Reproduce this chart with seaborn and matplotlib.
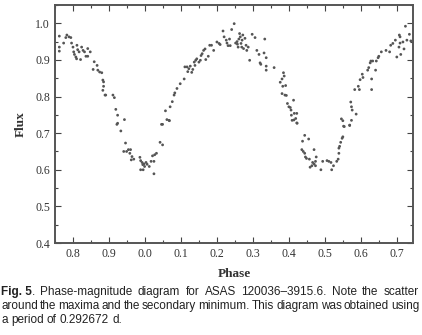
import matplotlib
matplotlib.use("Agg")
import matplotlib.pyplot as plt
from matplotlib.ticker import MultipleLocator
import seaborn as sns
import pandas as pd

# Phase (wrapped: values < 0 correspond to phases 0.75-1.0)
phase = [
    -0.238, -0.238, -0.238, -0.226, -0.220, -0.217, -0.211, -0.206, -0.204, -0.200,
    -0.198, -0.196, -0.192, -0.190, -0.189, -0.187, -0.183, -0.179, -0.176, -0.172,
    -0.168, -0.164, -0.159, -0.159, -0.152, -0.144, -0.141, -0.133, -0.131, -0.126,
    -0.120, -0.117, -0.115, -0.115, -0.117, -0.111, -0.109, -0.089, -0.085, -0.081,
    -0.076, -0.078, -0.057,
    -0.076, -0.067, -0.054, -0.059, -0.051, -0.046, -0.040, -0.042, -0.036, -0.038,
    -0.031, -0.014, -0.012, -0.008, -0.012, -0.005, -0.006, -0.003, -0.001, 0.003,
    0.006, 0.012, 0.017, 0.021, 0.025, 0.027, 0.025, 0.032, 0.042, 0.049, 0.049, 0.067,
    0.046, 0.057, 0.061, 0.068, 0.070, 0.076, 0.081, 0.083, 0.089, 0.098,
    0.109, 0.111, 0.117, 0.119, 0.122, 0.126, 0.130, 0.133, 0.139, 0.137,
    0.141, 0.144, 0.150, 0.154, 0.156, 0.159, 0.163, 0.167, 0.169, 0.176,
    0.180, 0.185, 0.191, 0.200, 0.206, 0.209, 0.217, 0.220, 0.226, 0.228,
    0.231, 0.235, 0.237, 0.241, 0.248, 0.252, 0.256, 0.257, 0.259, 0.261,
    0.263, 0.265, 0.267, 0.269, 0.270, 0.272, 0.274, 0.278, 0.281, 0.283,
    0.287, 0.291, 0.298, 0.306, 0.311, 0.317, 0.320, 0.322, 0.331, 0.333,
    0.337, 0.337, 0.337, 0.359, 0.376, 0.381, 0.385, 0.387, 0.383, 0.391,
    0.381, 0.389, 0.393, 0.396, 0.400, 0.404, 0.406, 0.407, 0.413, 0.415,
    0.419, 0.422, 0.409, 0.422,
    0.414, 0.423, 0.438, 0.444, 0.436, 0.440, 0.444, 0.446, 0.449, 0.455,
    0.457, 0.459, 0.464, 0.466, 0.470, 0.470, 0.474, 0.476, 0.474, 0.489,
    0.494, 0.506, 0.511, 0.517, 0.519, 0.524, 0.533, 0.537, 0.539, 0.539,
    0.541, 0.544, 0.548, 0.550, 0.554, 0.569, 0.550,
    0.546, 0.552, 0.569, 0.574, 0.572, 0.574, 0.576, 0.587, 0.583, 0.593,
    0.596, 0.598, 0.604, 0.606, 0.619, 0.622, 0.626, 0.628, 0.630, 0.630,
    0.633, 0.641, 0.643, 0.648, 0.650, 0.657, 0.670, 0.680, 0.683, 0.689,
    0.696, 0.700, 0.706, 0.709, 0.709, 0.707, 0.711, 0.717, 0.720, 0.724,
    0.728, 0.735, 0.739,
]
flux = [
    0.965, 0.935, 0.924, 0.946, 0.961, 0.968, 0.963, 0.961, 0.946, 0.935,
    0.922, 0.915, 0.908, 0.903, 0.940, 0.928, 0.922, 0.901, 0.935, 0.926,
    0.922, 0.910, 0.910, 0.931, 0.922, 0.874, 0.895, 0.885, 0.872, 0.867,
    0.865, 0.845, 0.840, 0.828, 0.817, 0.804, 0.804, 0.804, 0.797, 0.765,
    0.749, 0.724, 0.737,
    0.727, 0.706, 0.673, 0.650, 0.650, 0.655, 0.655, 0.645, 0.636, 0.627,
    0.629, 0.634, 0.625, 0.620, 0.600, 0.600, 0.614, 0.616, 0.609, 0.620,
    0.615, 0.609, 0.623, 0.638, 0.623, 0.641, 0.589, 0.645, 0.675, 0.668, 0.724, 0.735,
    0.724, 0.761, 0.737, 0.734, 0.772, 0.786, 0.804, 0.810, 0.822, 0.835,
    0.848, 0.881, 0.881, 0.868, 0.876, 0.883, 0.866, 0.874, 0.885, 0.894,
    0.899, 0.903, 0.894, 0.899, 0.912, 0.917, 0.926, 0.930, 0.901, 0.910,
    0.940, 0.940, 0.926, 0.949, 0.945, 0.942, 0.979, 0.963, 0.954, 0.946,
    0.939, 0.957, 0.939, 0.983, 0.999, 0.946, 0.950, 0.943, 0.935, 0.957,
    0.972, 0.963, 0.945, 0.935, 0.954, 0.968, 0.931, 0.959, 0.940, 0.926,
    0.935, 0.899, 0.970, 0.961, 0.926, 0.915, 0.892, 0.888, 0.919, 0.957,
    0.906, 0.883, 0.872, 0.879, 0.839, 0.848, 0.865, 0.856, 0.828, 0.830,
    0.808, 0.804, 0.803, 0.781, 0.772, 0.770, 0.763, 0.749, 0.790, 0.754,
    0.740, 0.754, 0.735, 0.728,
    0.736, 0.727, 0.678, 0.694, 0.655, 0.650, 0.645, 0.635, 0.631, 0.684,
    0.629, 0.607, 0.611, 0.620, 0.655, 0.616, 0.623, 0.635, 0.611, 0.600,
    0.623, 0.625, 0.623, 0.620, 0.600, 0.611, 0.623, 0.629, 0.645, 0.659,
    0.664, 0.675, 0.686, 0.690, 0.718, 0.721, 0.734,
    0.739, 0.719, 0.722, 0.735, 0.785, 0.772, 0.763, 0.752, 0.819, 0.828,
    0.819, 0.846, 0.861, 0.852, 0.872, 0.879, 0.892, 0.897, 0.848, 0.819,
    0.897, 0.872, 0.897, 0.906, 0.910, 0.922, 0.926, 0.922, 0.940, 0.945,
    0.954, 0.908, 0.935, 0.946, 0.963, 0.968, 0.915, 0.949, 0.930, 0.992,
    0.954, 0.970, 0.952,
]

xtick_pos = [-0.2, -0.1, 0.0, 0.1, 0.2, 0.3, 0.4, 0.5, 0.6, 0.7]
xtick_labels = ["0.8", "0.9", "0.0", "0.1", "0.2", "0.3", "0.4", "0.5", "0.6", "0.7"]
ytick_pos = [0.4, 0.5, 0.6, 0.7, 0.8, 0.9, 1.0]

caption_bold = "Fig. 5"
caption_lines = [
    ". Phase-magnitude diagram for ASAS 120036\u20133915.6. Note the scatter",
    "around the maxima and the secondary minimum. This diagram was obtained using",
    "a period of 0.292672 d.",
]

df = pd.DataFrame({"Phase": phase, "Flux": flux})

sns.set_style("ticks")
plt.rcParams["font.family"] = ["Liberation Serif", "DejaVu Serif"]

fig = plt.figure(figsize=(4.22, 3.35), dpi=100)
ax = fig.add_axes([55 / 422, 1 - 243 / 335, (413 - 55) / 422, (243 - 5) / 335])

sns.scatterplot(data=df, x="Phase", y="Flux", ax=ax, s=4, color="#555555",
                edgecolor="none", marker="o", legend=False)

ax.set_xlim(-0.25, 0.745)
ax.set_ylim(0.4, 1.05)
ax.set_xticks(xtick_pos)
ax.set_xticklabels(xtick_labels)
ax.set_yticks(ytick_pos)
ax.set_yticklabels([f"{v:.1f}" for v in ytick_pos])
ax.xaxis.set_minor_locator(MultipleLocator(0.05))
ax.yaxis.set_minor_locator(MultipleLocator(0.05))
ax.tick_params(which="both", direction="in", top=True, right=True,
               color="#444444", labelsize=8.5, labelcolor="#333333", width=0.8)
ax.tick_params(which="major", length=4)
ax.tick_params(which="minor", length=2)
for sp in ax.spines.values():
    sp.set_color("#555555")
    sp.set_linewidth(1.4)

ax.set_xlabel("Phase", fontsize=9.5, fontweight="bold", color="#333333", labelpad=6)
ax.set_ylabel("Flux", fontsize=9.5, fontweight="bold", color="#333333", labelpad=6)

sans = ["Liberation Sans", "DejaVu Sans"]
ys = [292, 306, 320]
fs = 8.5
fig.canvas.draw()
renderer = fig.canvas.get_renderer()

for i, (line, yp) in enumerate(zip(caption_lines, ys)):
    words = line.split(" ")
    parts = []
    if i == 0:
        parts.append((caption_bold, "bold"))
        first_punct = words[0]
        words = words[1:]
    parts += [(w, "normal") for w in words]
    items = [fig.text(0, 1 - yp / 335, txt, family=sans, fontsize=fs,
                      fontweight=wt, va="center", ha="left", color="#222222")
             for txt, wt in parts]
    widths = [t.get_window_extent(renderer).width for t in items]
    if i == 0:
        p = fig.text(0, 1 - yp / 335, first_punct, family=sans, fontsize=fs,
                     va="center", ha="left", color="#222222")
        bw = widths[0]
        widths[0] = bw + p.get_window_extent(renderer).width
    total = sum(widths)
    if i < len(caption_lines) - 1:
        gap = (419.0 - 1.0 - total) / (len(items) - 1)
    else:
        gap = fs * 0.28 * 100 / 72
    x = 1.0
    for j, (t, w) in enumerate(zip(items, widths)):
        t.set_x(x / 422)
        if i == 0 and j == 0:
            p.set_x((x + bw) / 422)
        x += w + gap

fig.savefig("out.png", dpi=100)
